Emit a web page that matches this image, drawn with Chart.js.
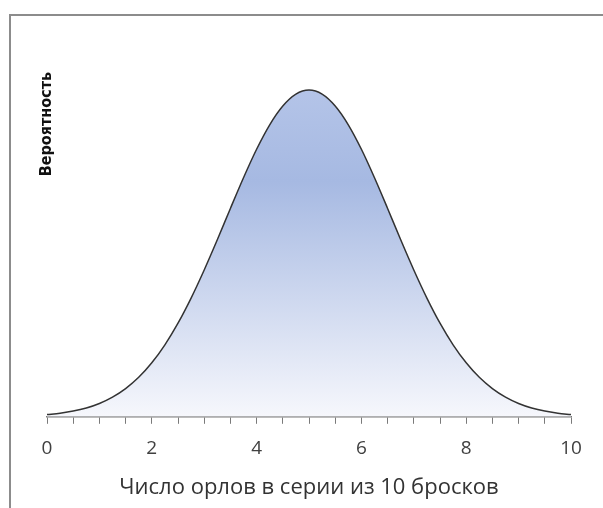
<!DOCTYPE html>
<html>
<head>
<meta charset="utf-8">
<script src="https://cdn.jsdelivr.net/npm/chart.js@4.4.1/dist/chart.umd.min.js"></script>
<style>
  html, body { margin: 0; padding: 0; background: #fff; }
  #wrap { position: relative; width: 603px; height: 508px; }
  #frame { position: absolute; left: 9px; top: 14px; right: -4px; bottom: -4px;
           border-left: 2px solid #8c8c8c; border-top: 2px solid #8c8c8c; }
  canvas { position: absolute; left: 0; top: 0; }
</style>
</head>
<body>
<div id="wrap">
  <div id="frame"></div>
  <canvas id="chart" width="603" height="508"></canvas>
</div>
<script>
// число орлов (x) и вероятность (y), шаг 0.25
const heads = [
  0, 0.25, 0.5, 0.75, 1, 1.25, 1.5, 1.75, 2, 2.25, 2.5, 2.75, 3, 3.25, 3.5, 3.75,
  4, 4.25, 4.5, 4.75, 5, 5.25, 5.5, 5.75, 6, 6.25, 6.5, 6.75, 7, 7.25, 7.5, 7.75,
  8, 8.25, 8.5, 8.75, 9, 9.25, 9.5, 9.75, 10
];
const prob = [
  0.0017, 0.0028, 0.0044, 0.0068, 0.0103, 0.0152, 0.0218, 0.0305, 0.0417, 0.0556,
  0.0723, 0.0917, 0.1134, 0.1367, 0.1609, 0.1846, 0.2066, 0.2255, 0.2400, 0.2492,
  0.2523, 0.2492, 0.2400, 0.2255, 0.2066, 0.1846, 0.1609, 0.1367, 0.1134, 0.0917,
  0.0723, 0.0556, 0.0417, 0.0305, 0.0218, 0.0152, 0.0103, 0.0068, 0.0044, 0.0028,
  0.0017
];
const xLabels = [0, 2, 4, 6, 8, 10];
const xTitle = "Число орлов в серии из 10 бросков";
const yTitle = "Вероятность";

const points = heads.map((x, i) => ({ x: x, y: prob[i] }));

function fillGradient(context) {
  const chart = context.chart;
  const area = chart.chartArea;
  if (!area) return "#b0c1e6";
  const top = chart.scales.y.getPixelForValue(Math.max(...prob));
  const g = chart.ctx.createLinearGradient(0, top, 0, area.bottom);
  g.addColorStop(0, "#b4c4e8");
  g.addColorStop(0.28, "#a6b9e2");
  g.addColorStop(1, "#f6f7fc");
  return g;
}

// подпись оси Y рисуем сами, она заходит на область графика
const yTitlePlugin = {
  id: "yTitle",
  afterDraw(chart) {
    const ctx = chart.ctx;
    ctx.save();
    ctx.translate(47, 124);
    ctx.rotate(-Math.PI / 2);
    ctx.font = "bold 16px 'DejaVu Sans Condensed', 'DejaVu Sans', sans-serif";
    ctx.fillStyle = "#111";
    ctx.textAlign = "center";
    ctx.textBaseline = "middle";
    ctx.fillText(yTitle, 0, 0);
    ctx.restore();
  }
};

new Chart(document.getElementById("chart"), {
  type: "line",
  data: {
    datasets: [{
      data: points,
      borderColor: "#333",
      borderWidth: 1.5,
      backgroundColor: fillGradient,
      fill: "origin",
      pointRadius: 0,
      tension: 0.4,
      cubicInterpolationMode: "monotone"
    }]
  },
  options: {
    responsive: false,
    animation: false,
    layout: { padding: { left: 47, right: 32, top: 73, bottom: 5 } },
    plugins: { legend: { display: false }, tooltip: { enabled: false } },
    scales: {
      x: {
        type: "linear",
        min: 0,
        max: 10,
        grid: { drawOnChartArea: false, tickLength: 7, color: "#7a7a7a", lineWidth: 1 },
        border: { display: true, color: "#7a7a7a", width: 1.5 },
        ticks: {
          stepSize: 0.5,
          autoSkip: false,
          maxRotation: 0,
          padding: 13,
          color: "#404040",
          font: { family: "'Open Sans'", size: 19 },
          callback: (v) => (xLabels.includes(v) ? String(v) : "")
        },
        title: {
          display: true,
          text: xTitle,
          color: "#333",
          font: { family: "'Open Sans'", size: 22 },
          padding: { top: 2, bottom: 2 }
        }
      },
      y: {
        display: false,
        min: 0,
        max: 0.2655
      }
    }
  },
  plugins: [yTitlePlugin]
});
</script>
</body>
</html>
